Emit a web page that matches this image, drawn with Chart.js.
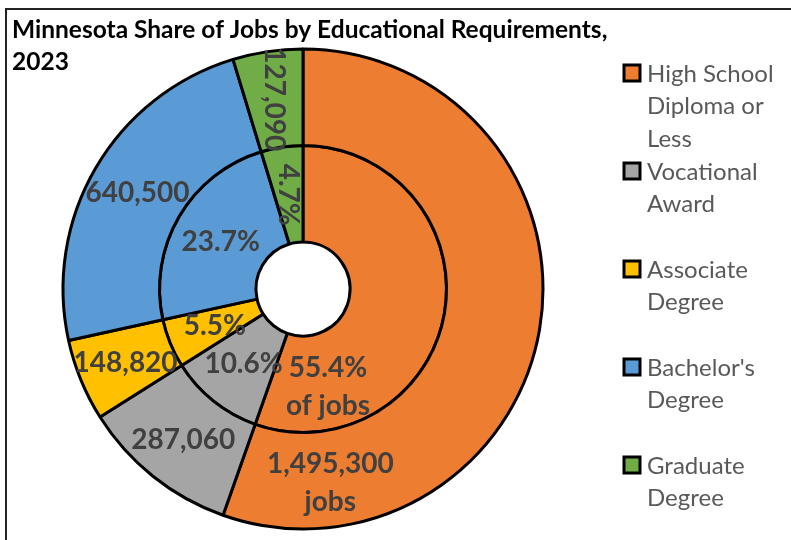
<!DOCTYPE html>
<html>
<head>
<meta charset="utf-8">
<script src="https://cdn.jsdelivr.net/npm/chart.js@4.4.1/dist/chart.umd.min.js"></script>
<style>
    html, body { margin: 0; padding: 0; background: #fff; }
    #wrap { width: 791px; height: 540px; }
</style>
</head>
<body>
<div id="wrap"><canvas id="jobsChart" width="791" height="540"></canvas></div>
<script>
// Chart data
const chartTitle = ['Minnesota Share of Jobs by Educational Requirements,', '2023'];
const categories = [
    ['High School', 'Diploma or', 'Less'],
    ['Vocational', 'Award'],
    ['Associate', 'Degree'],
    ["Bachelor's", 'Degree'],
    ['Graduate', 'Degree']
];
const jobCounts = [1495300, 287060, 148820, 640500, 127090];
const sliceColors = ['#ED7D31', '#A5A5A5', '#FFC000', '#5B9BD5', '#70AD47'];

const totalJobs = jobCounts.reduce((a, b) => a + b, 0);

// Label text for outer ring (counts) and inner ring (shares)
const countLabels = jobCounts.map((v, i) => {
    const txt = v.toLocaleString('en-US');
    return i === 0 ? [txt, 'jobs'] : [txt];
});
const shareLabels = jobCounts.map((v, i) => {
    const txt = (v / totalJobs * 100).toFixed(1) + '%';
    return i === 0 ? [txt, 'of jobs'] : [txt];
});

// The big slice has its labels pulled down toward the bottom (fraction of sweep, radius factor)
const labelMoves = {
    0: { 0: { along: 0.862, r: 1.015 }, 1: { along: 0.83, r: 1.05 } }
};
// Labels that are turned sideways (slice index)
const sidewaysSlices = [4];

const FONT = 'Lato, "Open Sans", sans-serif';

// Draws the frame, title, custom legend and slice labels
const decorPlugin = {
    id: 'decor',
    beforeDraw(chart) {
        const ctx = chart.ctx;
        ctx.save();
        ctx.fillStyle = '#fff';
        ctx.fillRect(0, 0, chart.width, chart.height);
        ctx.fillStyle = '#222';
        ctx.fillRect(5, 8, 2, chart.height - 8);
        ctx.fillRect(5, 8, chart.width - 5, 2);
        ctx.restore();
    },
    afterDatasetsDraw(chart) {
        const ctx = chart.ctx;
        ctx.save();
        ctx.fillStyle = '#404040';
        ctx.font = 'bold 28px ' + FONT;
        ctx.textAlign = 'center';
        ctx.textBaseline = 'middle';
        chart.data.datasets.forEach((ds, di) => {
            const meta = chart.getDatasetMeta(di);
            const texts = di === 0 ? countLabels : shareLabels;
            meta.data.forEach((arc, i) => {
                const p = arc.getProps(['x', 'y', 'startAngle', 'endAngle', 'innerRadius', 'outerRadius'], true);
                let along = 0.5, rf = 1;
                if (labelMoves[i] && labelMoves[i][di]) {
                    along = labelMoves[i][di].along;
                    rf = labelMoves[i][di].r;
                }
                const ang = p.startAngle + (p.endAngle - p.startAngle) * along;
                const r = (p.innerRadius + p.outerRadius) / 2 * rf;
                const lx = p.x + Math.cos(ang) * r;
                const ly = p.y + Math.sin(ang) * r;
                const lines = texts[i];
                const lh = 38;
                ctx.save();
                ctx.translate(lx, ly);
                if (sidewaysSlices.includes(i)) ctx.rotate(Math.PI / 2);
                lines.forEach((t, k) => {
                    ctx.fillText(t, 0, (k - (lines.length - 1) / 2) * lh + 1);
                });
                ctx.restore();
            });
        });
        ctx.restore();
    },
    afterDraw(chart) {
        const ctx = chart.ctx;
        ctx.save();
        // title
        ctx.fillStyle = '#000';
        ctx.font = 'bold 24.5px ' + FONT;
        ctx.textAlign = 'left';
        ctx.textBaseline = 'alphabetic';
        chartTitle.forEach((t, k) => ctx.fillText(t, 12, 38 + k * 32));

        // legend
        const ds = chart.data.datasets[0];
        ctx.font = '24px ' + FONT;
        ctx.textBaseline = 'middle';
        chart.data.labels.forEach((lines, i) => {
            const cy = 73 + i * 98;
            ctx.fillStyle = ds.backgroundColor[i];
            ctx.fillRect(624, cy - 8, 16, 16);
            ctx.strokeStyle = '#000';
            ctx.lineWidth = 3;
            ctx.strokeRect(624, cy - 8, 16, 16);
            ctx.fillStyle = '#595959';
            lines.forEach((t, k) => ctx.fillText(t, 647, cy + k * 32.5 + 1));
        });
        ctx.restore();
    }
};

const chart = new Chart(document.getElementById('jobsChart'), {
    type: 'doughnut',
    data: {
        labels: categories,
        datasets: [
            {
                label: 'Jobs',
                data: jobCounts,
                backgroundColor: sliceColors,
                borderColor: '#000',
                borderWidth: 3
            },
            {
                label: 'Share',
                data: jobCounts,
                backgroundColor: sliceColors,
                borderColor: '#000',
                borderWidth: 3
            }
        ]
    },
    options: {
        responsive: false,
        animation: false,
        radius: 240,
        cutout: '19.6%',
        layout: { padding: { left: 63, right: 248, top: 49, bottom: 11 } },
        plugins: {
            legend: { display: false },
            title: { display: false },
            tooltip: { enabled: false }
        }
    },
    plugins: [decorPlugin]
});
</script>
</body>
</html>
